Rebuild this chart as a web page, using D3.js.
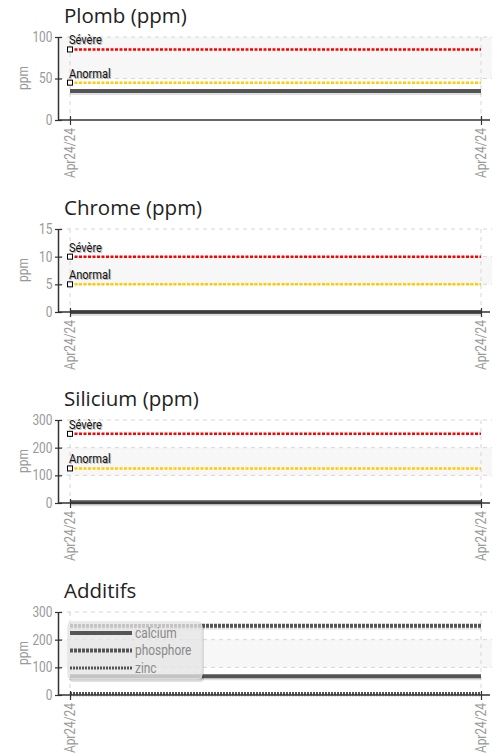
<!DOCTYPE html>
<html>
<head>
<meta charset="utf-8">
<script src="https://cdn.jsdelivr.net/npm/d3@7"></script>
<style>
body { margin: 0; background: #fff; }
</style>
</head>
<body>
<svg id="charts" width="500" height="754"></svg>
<script>

// chart values
var titles = ["Plomb (ppm)", "Chrome (ppm)", "Silicium (ppm)", "Additifs"];
var dates = ["2024-04-24T08:00", "2024-04-24T17:00"];
var plomb = [35, 35];
var chrome = [0, 0];
var silicium = [3, 3];
var calcium = [68, 68];
var phosphore = [250, 250];
var zinc = [5, 5];
var severe = [85, 10, 250];
var anormal = [45, 5, 125];
var yTicks = [[0, 50, 100], [0, 5, 10, 15], [0, 100, 200, 300], [0, 100, 200, 300]];
var additifNames = ["calcium", "phosphore", "zinc"];

// roboto squeezed a bit to look like the condensed face of the original
var narrow = "Roboto, sans-serif";
var squeeze = 0.85;
var parse = d3.timeParse("%Y-%m-%dT%H:%M");
var fmt = d3.timeFormat("%b%d/%y");
var when = dates.map(parse);

// series styles for the additifs panel
var addStyles = [
	{ width: 4, dash: null },
	{ width: 4, dash: "3,1" },
	{ width: 3, dash: "2,1" }
];

var svg = d3.select("#charts");

titles.forEach(function (title, i) {

	var g = svg.append("g")
			   .attr("transform", "translate(0," + Math.round(i * 191.7) + ")");

	var ticks = yTicks[i];
	var y = d3.scaleLinear().domain([0, ticks[ticks.length - 1]]).range([120, 37]);
	var x = d3.scaleTime().domain(d3.extent(when)).range([70, 481]);

	// title
	g.append("text")
	 .attr("x", 64)
	 .attr("y", 23)
	 .attr("font-family", "'Open Sans', sans-serif")
	 .attr("font-size", 20.5)
	 .attr("fill", "#222")
	 .text(title);

	// alternate bands
	for (var k = 1; k < ticks.length - 1; k += 2) {
		g.append("rect")
		 .attr("x", 59)
		 .attr("width", 433)
		 .attr("y", y(ticks[k + 1]))
		 .attr("height", y(ticks[k]) - y(ticks[k + 1]))
		 .attr("fill", "#f7f7f7");
	}

	// horizontal dashed grid
	g.selectAll(".hgrid")
	 .data(ticks.slice(1))
	 .enter().append("line")
	 .attr("x1", 59).attr("x2", 492)
	 .attr("y1", function (d) { return y(d); })
	 .attr("y2", function (d) { return y(d); })
	 .attr("stroke", "#d6d6d6")
	 .attr("stroke-dasharray", "4,4");

	// vertical dashed grid
	g.selectAll(".vgrid")
	 .data(when)
	 .enter().append("line")
	 .attr("x1", function (d) { return x(d); })
	 .attr("x2", function (d) { return x(d); })
	 .attr("y1", 37).attr("y2", 120)
	 .attr("stroke", "#d6d6d6")
	 .attr("stroke-dasharray", "4,4");

	// y axis
	var yAxis = g.append("g")
				 .attr("transform", "translate(58,0)")
				 .call(d3.axisLeft(y).tickValues(ticks).tickSizeInner(3).tickSizeOuter(0));
	yAxis.select(".domain").attr("stroke", "#333").attr("stroke-width", 1.5);
	yAxis.selectAll(".tick line").attr("x1", 4).attr("x2", -3).attr("stroke", "#333").attr("stroke-width", 1.2);
	yAxis.selectAll(".tick text")
		 .attr("font-family", narrow)
		 .attr("font-size", 14)
		 .attr("fill", "#999")
		 .attr("x", -5.5 / squeeze)
		 .attr("transform", "scale(" + squeeze + ",1)");

	g.append("text")
	 .attr("transform", "translate(27.5,78) rotate(-90) scale(" + squeeze + ",1)")
	 .attr("text-anchor", "middle")
	 .attr("font-family", narrow)
	 .attr("font-size", 14)
	 .attr("fill", "#999")
	 .text("ppm");

	var line = d3.line()
				 .x(function (d, j) { return x(when[j]); })
				 .y(function (d) { return y(d); });

	var series = i === 0 ? [plomb] : i === 1 ? [chrome] : i === 2 ? [silicium] : [calcium, phosphore, zinc];

	// thresholds
	if (i < 3) {
		[[severe[i], "#ff0000", "Sévère"], [anormal[i], "#ffcc00", "Anormal"]].forEach(function (t) {
			g.append("path")
			 .attr("d", line([t[0], t[0]]))
			 .attr("fill", "none")
			 .attr("stroke", t[1])
			 .attr("stroke-width", 2.5)
			 .attr("stroke-dasharray", "3,1.5");
			g.append("rect")
			 .attr("x", x(when[0]) - 2.5)
			 .attr("y", y(t[0]) - 2.5)
			 .attr("width", 5).attr("height", 5)
			 .attr("fill", "#fff")
			 .attr("stroke", "#000")
			 .attr("stroke-width", 1);
			[["#bbb", 1], ["#111", 0]].forEach(function (c) {
				g.append("text")
				 .attr("transform", "translate(" + (x(when[0]) - 1 + c[1]) + "," + (y(t[0]) - 5 + c[1]) + ") scale(" + squeeze + ",1)")
				 .attr("font-family", narrow)
				 .attr("font-size", 13)
				 .attr("fill", c[0])
				 .text(t[2]);
			});
		});
	}

	// data series
	series.forEach(function (s, j) {
		var st = i === 3 ? addStyles[j] : addStyles[0];
		g.append("path")
		 .attr("d", line(s))
		 .attr("transform", "translate(0,2)")
		 .attr("fill", "none")
		 .attr("stroke", "rgba(0,0,0,0.12)")
		 .attr("stroke-width", st.width)
		 .attr("stroke-dasharray", st.dash);
		g.append("path")
		 .attr("d", line(s))
		 .attr("fill", "none")
		 .attr("stroke", "#555")
		 .attr("stroke-width", st.width)
		 .attr("stroke-dasharray", st.dash);
	});

	// x axis
	g.append("line")
	 .attr("x1", 58).attr("x2", 490)
	 .attr("y1", 120).attr("y2", 120)
	 .attr("stroke", "#333")
	 .attr("stroke-width", 1.5);
	var xAxis = g.append("g")
				 .attr("transform", "translate(0,120)")
				 .call(d3.axisBottom(x).tickValues(when).tickFormat(fmt).tickSizeInner(5).tickSizeOuter(0));
	xAxis.select(".domain").remove();
	xAxis.selectAll(".tick line").attr("y1", -4).attr("y2", 5).attr("stroke", "#333").attr("stroke-width", 1.2);
	xAxis.selectAll(".tick text")
		 .attr("font-family", narrow)
		 .attr("font-size", 14)
		 .attr("fill", "#999")
		 .attr("text-anchor", "end")
		 .attr("transform", "rotate(-90) scale(" + squeeze + ",1)")
		 .attr("x", -8 / squeeze).attr("y", 0).attr("dy", "0.35em");

	// legend for the additifs panel
	if (i === 3) {
		var lg = g.append("g").attr("transform", "translate(68,47)");
		lg.append("rect")
		  .attr("x", 1).attr("y", 2)
		  .attr("width", 135).attr("height", 58)
		  .attr("rx", 4)
		  .attr("fill", "rgba(0,0,0,0.12)");
		lg.append("rect")
		  .attr("width", 134).attr("height", 57)
		  .attr("rx", 4)
		  .attr("fill", "rgba(238,238,238,0.75)")
		  .attr("stroke", "#ddd");
		additifNames.forEach(function (name, j) {
			var ly = 11 + j * 17.5;
			lg.append("line")
			  .attr("x1", 2).attr("x2", 64)
			  .attr("y1", ly).attr("y2", ly)
			  .attr("stroke", "#555")
			  .attr("stroke-width", addStyles[j].width)
			  .attr("stroke-dasharray", addStyles[j].dash);
			lg.append("text")
			  .attr("transform", "translate(67," + (ly + 4.5) + ") scale(" + squeeze + ",1)")
			  .attr("font-family", narrow)
			  .attr("font-size", 14)
			  .attr("fill", "#888")
			  .text(name);
		});
	}
});
</script>
</body>
</html>
